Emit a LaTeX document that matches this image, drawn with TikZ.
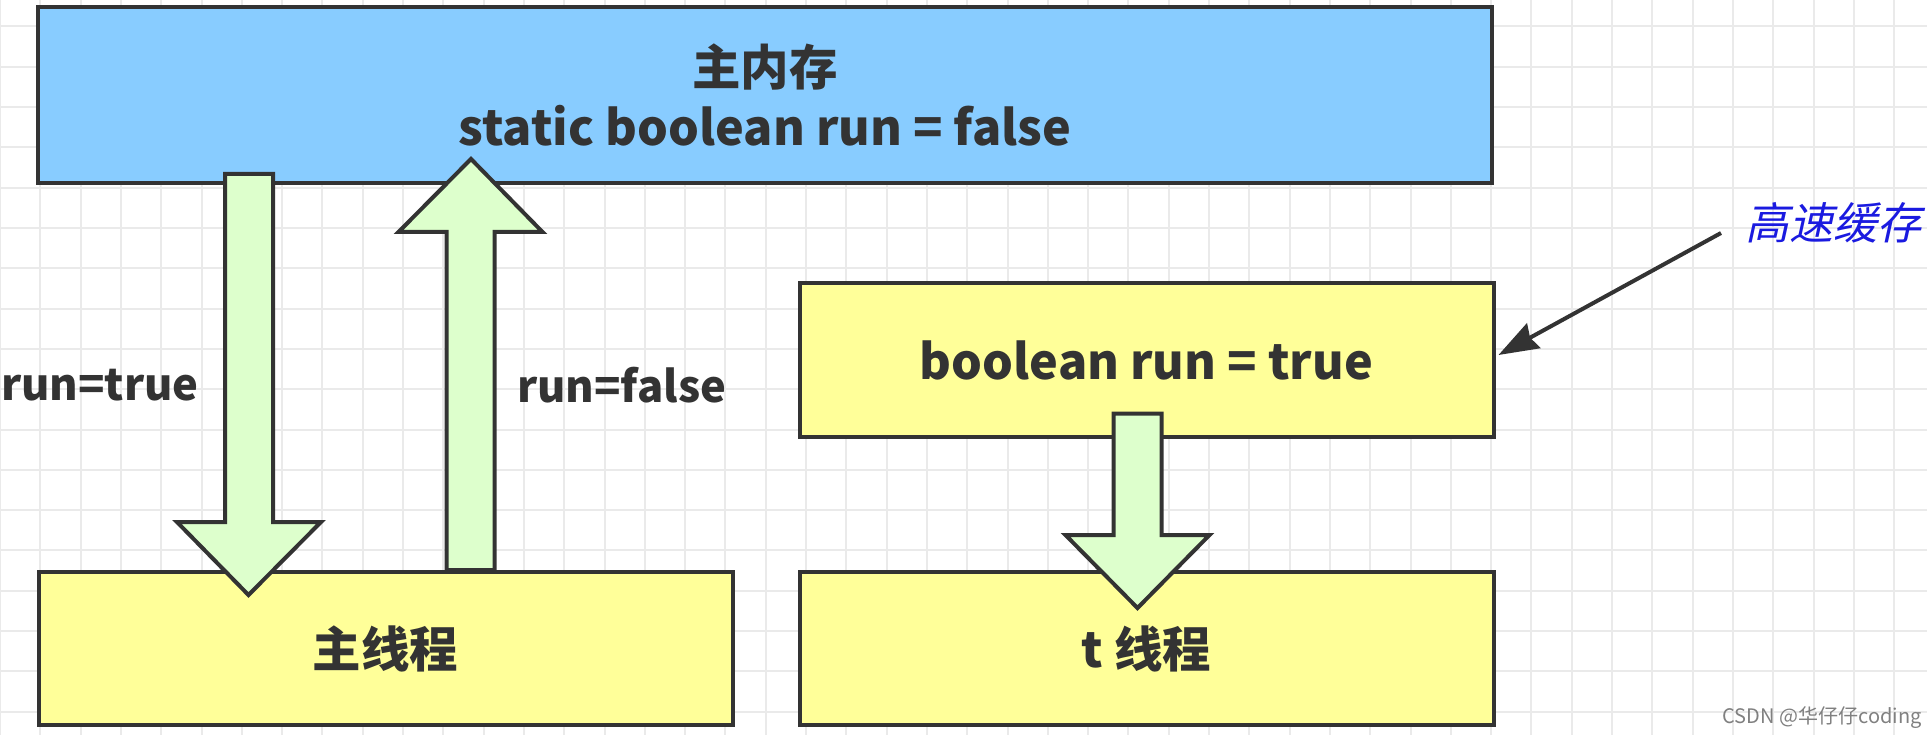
\documentclass[tikz,border=0pt]{standalone}
\usepackage{fontspec}
\setmainfont{Noto Sans CJK SC}
\newfontfamily\cachefont[FakeSlant=0.22]{Noto Sans CJK SC}
\usetikzlibrary{arrows.meta,calc}

\definecolor{memblue}{RGB}{136,204,255}
\definecolor{thryellow}{RGB}{255,255,153}
\definecolor{flowgreen}{RGB}{221,255,204}
\definecolor{edgegray}{RGB}{51,51,51}
\definecolor{txtgray}{RGB}{51,51,51}
\definecolor{gridgray}{RGB}{234,234,234}
\definecolor{noteblue}{RGB}{26,26,224}

% block arrow from #1 to the tip #2 (vertical)
\newcommand{\blockarrow}[2]{%
\draw[flowarrow] let \p1=(#1), \p2=(#2), \n1={sign(\y1-\y2)} in
  (\x1-24pt,\y1) -- (\x1-24pt,\y2+\n1*73pt) -- (\x1-72pt,\y2+\n1*73pt) -- (\x2,\y2)
  -- (\x1+72pt,\y2+\n1*73pt) -- (\x1+24pt,\y2+\n1*73pt) -- (\x1+24pt,\y1) -- cycle;}

\begin{document}
\begin{tikzpicture}[x=1pt,y=-1pt,
  box/.style={draw=edgegray,line width=4pt,inner sep=0pt,text=txtgray,align=center,
    font=\bfseries\fontsize{48.5}{60}\selectfont},
  membox/.style={box,fill=memblue,minimum width=1454pt,minimum height=176pt},
  thrbox/.style={box,fill=thryellow,minimum width=694pt,minimum height=153pt},
  flowlabel/.style={anchor=west,inner sep=0pt,text=txtgray,font=\bfseries\fontsize{43.5}{60}\selectfont},
  flowarrow/.style={draw=edgegray,fill=flowgreen,line width=4pt,line join=miter},
  gridline/.style={draw=gridgray,line width=2pt}]
\useasboundingbox (0,0) rectangle (1927,735);
\fill[white] (0,0) rectangle (1927,735);
% Drawing grid
\foreach \gx in {0,...,47}
  \draw[gridline] (\gx*40.3,0) -- (\gx*40.3,735);
\foreach \gy in {0,...,17}
  \draw[gridline] (0,26.5+\gy*40.3) -- (1927,26.5+\gy*40.3);
% Drawing boxes
\node[membox] (mem) at (765,95) {主内存\\static boolean run = false};
\node[thrbox] (main) at (385.5,648.5) {主线程};
\node[thrbox] (cache) at (1146.5,360) {boolean run = true};
\node[thrbox] (tthr) at (1146.5,648.5) {t 线程};
% Drawing flows
\blockarrow{$(mem.south west)+(213,-11)$}{$(main.north west)+(212,25)$}
\blockarrow{$(main.north west)+(434,0)$}{$(mem.south west)+(435,-26)$}
\blockarrow{$(cache.south west)+(340,-25)$}{$(tthr.north west)+(340,38)$}
\node[flowlabel] (settrue) at (1,385) {run=true};
\node[flowlabel] (setfalse) at (517,385) {run=false};
% Cache note
\node[anchor=west,inner sep=0pt,text=noteblue,font=\cachefont\fontsize{44}{50}\selectfont]
  (cachenote) at (1745,223) {高速缓存};
\draw[draw=edgegray,line width=4pt,-{Stealth[length=40pt,width=28pt,inset=4pt]}]
  ([xshift=-24pt,yshift=-10pt]cachenote.west) -- ([xshift=3pt,yshift=5pt]cache.east);
% Watermark
\node[inner sep=0pt,text=gray,font=\fontsize{20}{24}\selectfont] (mark) at (1822,718) {CSDN @华仔仔coding};
\end{tikzpicture}
\end{document}
